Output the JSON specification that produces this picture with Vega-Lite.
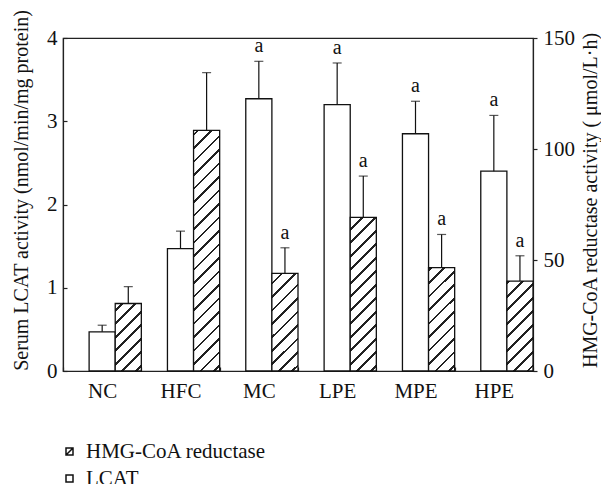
{
"$schema":"https://vega.github.io/schema/vega-lite/v6.json",
"width":470,"height":333,
"autosize":{"type":"none"},
"padding":{"left":63,"top":38,"right":68,"bottom":113},
"config":{"font":"Liberation Serif","view":{"stroke":"#222","strokeWidth":1.2},
 "axis":{"domainColor":"#222","tickColor":"#222","labelColor":"#111","titleColor":"#111","labelFont":"Liberation Serif","titleFont":"Liberation Serif","labelFontSize":21,"titleFontSize":20,"titleFontWeight":"normal","grid":false,"domainWidth":1.2,"tickWidth":1.2},
 "text":{"font":"Liberation Serif"}},
"data":{"values":[
 {"group":"NC","series":"LCAT","value":0.47,"upper":0.55,"sig":""},
 {"group":"HFC","series":"LCAT","value":1.47,"upper":1.68,"sig":""},
 {"group":"MC","series":"LCAT","value":3.27,"upper":3.72,"sig":"a"},
 {"group":"LPE","series":"LCAT","value":3.2,"upper":3.7,"sig":"a"},
 {"group":"MPE","series":"LCAT","value":2.85,"upper":3.24,"sig":"a"},
 {"group":"HPE","series":"LCAT","value":2.4,"upper":3.07,"sig":"a"},
 {"group":"NC","series":"HMG-CoA reductase","value":30.4,"upper":38,"sig":""},
 {"group":"HFC","series":"HMG-CoA reductase","value":108.4,"upper":134.4,"sig":""},
 {"group":"MC","series":"HMG-CoA reductase","value":44,"upper":55.5,"sig":"a"},
 {"group":"LPE","series":"HMG-CoA reductase","value":69.2,"upper":87.8,"sig":"a"},
 {"group":"MPE","series":"HMG-CoA reductase","value":46.6,"upper":61.5,"sig":"a"},
 {"group":"HPE","series":"HMG-CoA reductase","value":40.5,"upper":51.9,"sig":"a"}
]},
"encoding":{
 "x":{"field":"group","type":"nominal","sort":["NC","HFC","MC","LPE","MPE","HPE"],"scale":{"paddingInner":0,"paddingOuter":0},"axis":{"title":null,"labelAngle":0,"tickBand":"extent","tickSize":-4,"labelPadding":13}},
 "xOffset":{"field":"series","type":"nominal","scale":{"domain":["pad","LCAT","HMG-CoA reductase"],"paddingInner":0,"paddingOuter":0}}
},
"layer":[
 {"transform":[{"filter":"datum.series==='LCAT'"}],
  "encoding":{"y":{"field":"value","type":"quantitative","scale":{"domain":[0,4]},"title":"Serum LCAT activity (nmol/min/mg protein)","axis":{"values":[0,1,2,3,4],"tickSize":-4,"labelPadding":10,"titlePadding":15,"titleY":152}}},
  "layer":[
   {"mark":{"type":"bar","fill":"white","stroke":"#111","strokeWidth":1.3}},
   {"mark":{"type":"rule","stroke":"#111","strokeWidth":1.2},"encoding":{"y2":{"field":"upper"}}},
   {"mark":{"type":"tick","orient":"horizontal","size":9,"thickness":1.2,"color":"#111"},"encoding":{"y":{"field":"upper","type":"quantitative","title":"Serum LCAT activity (nmol/min/mg protein)"}}},
   {"mark":{"type":"text","baseline":"alphabetic","dy":-9,"fontSize":20,"color":"#111"},"encoding":{"y":{"field":"upper","type":"quantitative","title":"Serum LCAT activity (nmol/min/mg protein)"},"text":{"field":"sig"}}}
  ]},
 {"transform":[{"filter":"datum.series!=='LCAT'"}],
  "encoding":{"y":{"field":"value","type":"quantitative","scale":{"domain":[0,150]},"title":"HMG-CoA reductase activity ( μmol/L·h)","axis":{"orient":"right","values":[0,50,100,150],"tickSize":4,"labelPadding":6,"titleAngle":270,"titleBaseline":"top","titlePadding":6,"titleY":162}}},
  "layer":[
   {"transform":[{"filter":"datum.group==='NC'"}],"mark":{"type":"bar","stroke":"#111","strokeWidth":1.3,"fill":{"gradient":"linear","x1":0,"y1":0,"x2":0.4664,"y2":1.2063,"stops":[
    {"offset":0,"color":"#fff"},
    {"offset":0.0598,"color":"#fff"},{"offset":0.0598,"color":"#222"},{"offset":0.0897,"color":"#222"},{"offset":0.0897,"color":"#fff"},
    {"offset":0.2041,"color":"#fff"},{"offset":0.2041,"color":"#222"},{"offset":0.2340,"color":"#222"},{"offset":0.2340,"color":"#fff"},
    {"offset":0.3483,"color":"#fff"},{"offset":0.3483,"color":"#222"},{"offset":0.3782,"color":"#222"},{"offset":0.3782,"color":"#fff"},
    {"offset":0.4925,"color":"#fff"},{"offset":0.4925,"color":"#222"},{"offset":0.5224,"color":"#222"},{"offset":0.5224,"color":"#fff"},
    {"offset":0.6368,"color":"#fff"},{"offset":0.6368,"color":"#222"},{"offset":0.6667,"color":"#222"},{"offset":0.6667,"color":"#fff"},
    {"offset":0.7810,"color":"#fff"},{"offset":0.7810,"color":"#222"},{"offset":0.8109,"color":"#222"},{"offset":0.8109,"color":"#fff"},
    {"offset":0.9252,"color":"#fff"},{"offset":0.9252,"color":"#222"},{"offset":0.9551,"color":"#222"},{"offset":0.9551,"color":"#fff"},
    {"offset":1,"color":"#fff"}]}}},
   {"transform":[{"filter":"datum.group==='HFC'"}],"mark":{"type":"bar","stroke":"#111","strokeWidth":1.3,"fill":{"gradient":"linear","x1":0,"y1":0,"x2":0.1189,"y2":1.0956,"stops":[
    {"offset":0,"color":"#fff"},
    {"offset":0.0120,"color":"#fff"},{"offset":0.0120,"color":"#222"},{"offset":0.0225,"color":"#222"},{"offset":0.0225,"color":"#fff"},
    {"offset":0.0626,"color":"#fff"},{"offset":0.0626,"color":"#222"},{"offset":0.0731,"color":"#222"},{"offset":0.0731,"color":"#fff"},
    {"offset":0.1132,"color":"#fff"},{"offset":0.1132,"color":"#222"},{"offset":0.1237,"color":"#222"},{"offset":0.1237,"color":"#fff"},
    {"offset":0.1639,"color":"#fff"},{"offset":0.1639,"color":"#222"},{"offset":0.1744,"color":"#222"},{"offset":0.1744,"color":"#fff"},
    {"offset":0.2145,"color":"#fff"},{"offset":0.2145,"color":"#222"},{"offset":0.2250,"color":"#222"},{"offset":0.2250,"color":"#fff"},
    {"offset":0.2651,"color":"#fff"},{"offset":0.2651,"color":"#222"},{"offset":0.2756,"color":"#222"},{"offset":0.2756,"color":"#fff"},
    {"offset":0.3157,"color":"#fff"},{"offset":0.3157,"color":"#222"},{"offset":0.3262,"color":"#222"},{"offset":0.3262,"color":"#fff"},
    {"offset":0.3663,"color":"#fff"},{"offset":0.3663,"color":"#222"},{"offset":0.3768,"color":"#222"},{"offset":0.3768,"color":"#fff"},
    {"offset":0.4170,"color":"#fff"},{"offset":0.4170,"color":"#222"},{"offset":0.4275,"color":"#222"},{"offset":0.4275,"color":"#fff"},
    {"offset":0.4676,"color":"#fff"},{"offset":0.4676,"color":"#222"},{"offset":0.4781,"color":"#222"},{"offset":0.4781,"color":"#fff"},
    {"offset":0.5182,"color":"#fff"},{"offset":0.5182,"color":"#222"},{"offset":0.5287,"color":"#222"},{"offset":0.5287,"color":"#fff"},
    {"offset":0.5688,"color":"#fff"},{"offset":0.5688,"color":"#222"},{"offset":0.5793,"color":"#222"},{"offset":0.5793,"color":"#fff"},
    {"offset":0.6194,"color":"#fff"},{"offset":0.6194,"color":"#222"},{"offset":0.6299,"color":"#222"},{"offset":0.6299,"color":"#fff"},
    {"offset":0.6700,"color":"#fff"},{"offset":0.6700,"color":"#222"},{"offset":0.6805,"color":"#222"},{"offset":0.6805,"color":"#fff"},
    {"offset":0.7207,"color":"#fff"},{"offset":0.7207,"color":"#222"},{"offset":0.7312,"color":"#222"},{"offset":0.7312,"color":"#fff"},
    {"offset":0.7713,"color":"#fff"},{"offset":0.7713,"color":"#222"},{"offset":0.7818,"color":"#222"},{"offset":0.7818,"color":"#fff"},
    {"offset":0.8219,"color":"#fff"},{"offset":0.8219,"color":"#222"},{"offset":0.8324,"color":"#222"},{"offset":0.8324,"color":"#fff"},
    {"offset":0.8725,"color":"#fff"},{"offset":0.8725,"color":"#222"},{"offset":0.8830,"color":"#222"},{"offset":0.8830,"color":"#fff"},
    {"offset":0.9231,"color":"#fff"},{"offset":0.9231,"color":"#222"},{"offset":0.9336,"color":"#222"},{"offset":0.9336,"color":"#fff"},
    {"offset":0.9738,"color":"#fff"},{"offset":0.9738,"color":"#222"},{"offset":0.9843,"color":"#222"},{"offset":0.9843,"color":"#fff"},
    {"offset":1,"color":"#fff"}]}}},
   {"transform":[{"filter":"datum.group==='MC'"}],"mark":{"type":"bar","stroke":"#111","strokeWidth":1.3,"fill":{"gradient":"linear","x1":0,"y1":0,"x2":0.3160,"y2":1.1827,"stops":[
    {"offset":0,"color":"#fff"},
    {"offset":0.0711,"color":"#fff"},{"offset":0.0711,"color":"#222"},{"offset":0.0937,"color":"#222"},{"offset":0.0937,"color":"#fff"},
    {"offset":0.1801,"color":"#fff"},{"offset":0.1801,"color":"#222"},{"offset":0.2028,"color":"#222"},{"offset":0.2028,"color":"#fff"},
    {"offset":0.2892,"color":"#fff"},{"offset":0.2892,"color":"#222"},{"offset":0.3118,"color":"#222"},{"offset":0.3118,"color":"#fff"},
    {"offset":0.3982,"color":"#fff"},{"offset":0.3982,"color":"#222"},{"offset":0.4208,"color":"#222"},{"offset":0.4208,"color":"#fff"},
    {"offset":0.5073,"color":"#fff"},{"offset":0.5073,"color":"#222"},{"offset":0.5299,"color":"#222"},{"offset":0.5299,"color":"#fff"},
    {"offset":0.6163,"color":"#fff"},{"offset":0.6163,"color":"#222"},{"offset":0.6389,"color":"#222"},{"offset":0.6389,"color":"#fff"},
    {"offset":0.7254,"color":"#fff"},{"offset":0.7254,"color":"#222"},{"offset":0.7480,"color":"#222"},{"offset":0.7480,"color":"#fff"},
    {"offset":0.8344,"color":"#fff"},{"offset":0.8344,"color":"#222"},{"offset":0.8570,"color":"#222"},{"offset":0.8570,"color":"#fff"},
    {"offset":0.9435,"color":"#fff"},{"offset":0.9435,"color":"#222"},{"offset":0.9661,"color":"#222"},{"offset":0.9661,"color":"#fff"},
    {"offset":1,"color":"#fff"}]}}},
   {"transform":[{"filter":"datum.group==='LPE'"}],"mark":{"type":"bar","stroke":"#111","strokeWidth":1.3,"fill":{"gradient":"linear","x1":0,"y1":0,"x2":0.1932,"y2":1.1371,"stops":[
    {"offset":0,"color":"#fff"},
    {"offset":0.0595,"color":"#fff"},{"offset":0.0595,"color":"#222"},{"offset":0.0751,"color":"#222"},{"offset":0.0751,"color":"#fff"},
    {"offset":0.1347,"color":"#fff"},{"offset":0.1347,"color":"#222"},{"offset":0.1503,"color":"#222"},{"offset":0.1503,"color":"#fff"},
    {"offset":0.2098,"color":"#fff"},{"offset":0.2098,"color":"#222"},{"offset":0.2254,"color":"#222"},{"offset":0.2254,"color":"#fff"},
    {"offset":0.2849,"color":"#fff"},{"offset":0.2849,"color":"#222"},{"offset":0.3005,"color":"#222"},{"offset":0.3005,"color":"#fff"},
    {"offset":0.3600,"color":"#fff"},{"offset":0.3600,"color":"#222"},{"offset":0.3756,"color":"#222"},{"offset":0.3756,"color":"#fff"},
    {"offset":0.4352,"color":"#fff"},{"offset":0.4352,"color":"#222"},{"offset":0.4508,"color":"#222"},{"offset":0.4508,"color":"#fff"},
    {"offset":0.5103,"color":"#fff"},{"offset":0.5103,"color":"#222"},{"offset":0.5259,"color":"#222"},{"offset":0.5259,"color":"#fff"},
    {"offset":0.5854,"color":"#fff"},{"offset":0.5854,"color":"#222"},{"offset":0.6010,"color":"#222"},{"offset":0.6010,"color":"#fff"},
    {"offset":0.6606,"color":"#fff"},{"offset":0.6606,"color":"#222"},{"offset":0.6761,"color":"#222"},{"offset":0.6761,"color":"#fff"},
    {"offset":0.7357,"color":"#fff"},{"offset":0.7357,"color":"#222"},{"offset":0.7513,"color":"#222"},{"offset":0.7513,"color":"#fff"},
    {"offset":0.8108,"color":"#fff"},{"offset":0.8108,"color":"#222"},{"offset":0.8264,"color":"#222"},{"offset":0.8264,"color":"#fff"},
    {"offset":0.8859,"color":"#fff"},{"offset":0.8859,"color":"#222"},{"offset":0.9015,"color":"#222"},{"offset":0.9015,"color":"#fff"},
    {"offset":0.9611,"color":"#fff"},{"offset":0.9611,"color":"#222"},{"offset":0.9766,"color":"#222"},{"offset":0.9766,"color":"#fff"},
    {"offset":1,"color":"#fff"}]}}},
   {"transform":[{"filter":"datum.group==='MPE'"}],"mark":{"type":"bar","stroke":"#111","strokeWidth":1.3,"fill":{"gradient":"linear","x1":0,"y1":0,"x2":0.2969,"y2":1.1773,"stops":[
    {"offset":0,"color":"#fff"},
    {"offset":0.0085,"color":"#fff"},{"offset":0.0085,"color":"#222"},{"offset":0.0301,"color":"#222"},{"offset":0.0301,"color":"#fff"},
    {"offset":0.1127,"color":"#fff"},{"offset":0.1127,"color":"#222"},{"offset":0.1343,"color":"#222"},{"offset":0.1343,"color":"#fff"},
    {"offset":0.2168,"color":"#fff"},{"offset":0.2168,"color":"#222"},{"offset":0.2384,"color":"#222"},{"offset":0.2384,"color":"#fff"},
    {"offset":0.3210,"color":"#fff"},{"offset":0.3210,"color":"#222"},{"offset":0.3426,"color":"#222"},{"offset":0.3426,"color":"#fff"},
    {"offset":0.4252,"color":"#fff"},{"offset":0.4252,"color":"#222"},{"offset":0.4468,"color":"#222"},{"offset":0.4468,"color":"#fff"},
    {"offset":0.5293,"color":"#fff"},{"offset":0.5293,"color":"#222"},{"offset":0.5509,"color":"#222"},{"offset":0.5509,"color":"#fff"},
    {"offset":0.6335,"color":"#fff"},{"offset":0.6335,"color":"#222"},{"offset":0.6551,"color":"#222"},{"offset":0.6551,"color":"#fff"},
    {"offset":0.7377,"color":"#fff"},{"offset":0.7377,"color":"#222"},{"offset":0.7593,"color":"#222"},{"offset":0.7593,"color":"#fff"},
    {"offset":0.8418,"color":"#fff"},{"offset":0.8418,"color":"#222"},{"offset":0.8634,"color":"#222"},{"offset":0.8634,"color":"#fff"},
    {"offset":0.9460,"color":"#fff"},{"offset":0.9460,"color":"#222"},{"offset":0.9676,"color":"#222"},{"offset":0.9676,"color":"#fff"},
    {"offset":1,"color":"#fff"}]}}},
   {"transform":[{"filter":"datum.group==='HPE'"}],"mark":{"type":"bar","stroke":"#111","strokeWidth":1.3,"fill":{"gradient":"linear","x1":0,"y1":0,"x2":0.3455,"y2":1.1900,"stops":[
    {"offset":0,"color":"#fff"},
    {"offset":0.0086,"color":"#fff"},{"offset":0.0086,"color":"#222"},{"offset":0.0328,"color":"#222"},{"offset":0.0328,"color":"#fff"},
    {"offset":0.1250,"color":"#fff"},{"offset":0.1250,"color":"#222"},{"offset":0.1491,"color":"#222"},{"offset":0.1491,"color":"#fff"},
    {"offset":0.2414,"color":"#fff"},{"offset":0.2414,"color":"#222"},{"offset":0.2655,"color":"#222"},{"offset":0.2655,"color":"#fff"},
    {"offset":0.3578,"color":"#fff"},{"offset":0.3578,"color":"#222"},{"offset":0.3819,"color":"#222"},{"offset":0.3819,"color":"#fff"},
    {"offset":0.4741,"color":"#fff"},{"offset":0.4741,"color":"#222"},{"offset":0.4983,"color":"#222"},{"offset":0.4983,"color":"#fff"},
    {"offset":0.5905,"color":"#fff"},{"offset":0.5905,"color":"#222"},{"offset":0.6147,"color":"#222"},{"offset":0.6147,"color":"#fff"},
    {"offset":0.7069,"color":"#fff"},{"offset":0.7069,"color":"#222"},{"offset":0.7310,"color":"#222"},{"offset":0.7310,"color":"#fff"},
    {"offset":0.8233,"color":"#fff"},{"offset":0.8233,"color":"#222"},{"offset":0.8474,"color":"#222"},{"offset":0.8474,"color":"#fff"},
    {"offset":0.9397,"color":"#fff"},{"offset":0.9397,"color":"#222"},{"offset":0.9638,"color":"#222"},{"offset":0.9638,"color":"#fff"},
    {"offset":1,"color":"#fff"}]}}},
   {"mark":{"type":"rule","stroke":"#111","strokeWidth":1.2},"encoding":{"y2":{"field":"upper"}}},
   {"mark":{"type":"tick","orient":"horizontal","size":9,"thickness":1.2,"color":"#111"},"encoding":{"y":{"field":"upper","type":"quantitative","title":"HMG-CoA reductase activity ( μmol/L·h)"}}},
   {"mark":{"type":"text","baseline":"alphabetic","dy":-9,"fontSize":20,"color":"#111"},"encoding":{"y":{"field":"upper","type":"quantitative","title":"HMG-CoA reductase activity ( μmol/L·h)"},"text":{"field":"sig"}}}
  ]},
 {"mark":{"type":"point","opacity":0,"color":"#111"},
  "encoding":{"shape":{"field":"series","type":"nominal","scale":{"domain":["HMG-CoA reductase","LCAT"],"range":["M-1,-1H1V1H-1ZM-1,1L1,-1","square"]},
   "legend":{"title":null,"orient":"none","legendX":-4,"legendY":403,"padding":0,"symbolSize":49,"labelFontSize":21,"labelOffset":6,"labelLimit":0,"rowPadding":5,"labelColor":"#111","labelFont":"Liberation Serif",
    "encode":{"symbols":{"update":{"opacity":{"value":1},"stroke":{"value":"#111"},"fill":{"value":"white"},"strokeWidth":{"value":1.2}}}}}}}}
],
"resolve":{"scale":{"y":"independent"}}
}
